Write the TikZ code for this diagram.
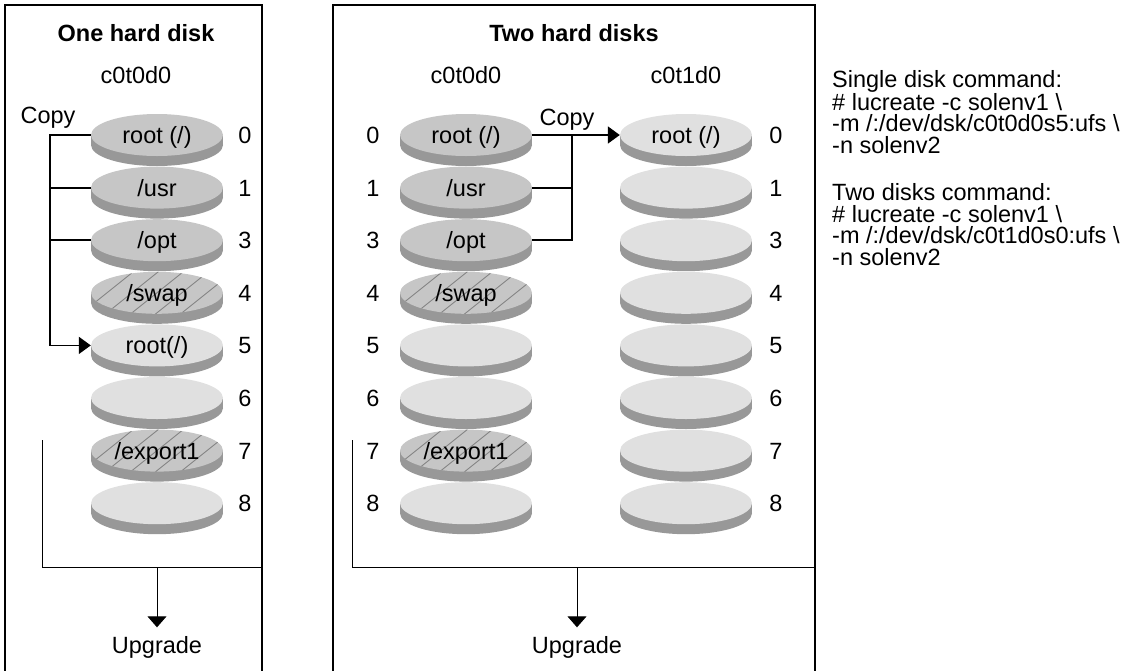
\documentclass[tikz,border=0pt]{standalone}
\usepackage{fontspec}
\setmainfont{Liberation Sans}
\usetikzlibrary{arrows.meta,shapes.geometric}
\definecolor{diskdark}{RGB}{198,198,198}
\definecolor{disklight}{RGB}{224,224,224}
\definecolor{diskside}{RGB}{152,152,152}
\definecolor{hatchgray}{RGB}{128,128,128}
\newcommand{\lblsize}{\fontsize{23.5}{21.5}\selectfont}
\tikzset{
lbl/.style={
  font=\lblsize,
  inner sep=0pt,
  text height=17pt,
  text depth=0pt
  },
ttl/.style={
  lbl,
  font=\lblsize\bfseries
  },
diskface/.style={
  lbl,
  ellipse,
  minimum width=132pt,
  minimum height=42pt,
  fill=#1
  },
hatched/.style={
  diskface=diskdark,
  path picture={
    \foreach \hx in {-100,-75,...,100}
      \draw[hatchgray,line width=0.8pt] ([xshift=\hx pt]path picture bounding box.center)
        ++(-30pt,-24pt) -- ++(60pt,48pt);
    }
  },
framebox/.style={line width=1.8pt},
copyline/.style={line width=1.8pt},
bracket/.style={line width=0.9pt}
}
% one disk slice: name, x, y, face style, text
\newcommand{\slice}[5]{
  \fill[diskside] (#2,#3+10) ellipse [x radius=66pt,y radius=21pt];
  \fill[diskside] (#2-66,#3) rectangle (#2+66,#3+10);
  \node[#4] (#1) at (#2,#3) {#5};
}

\begin{document}
\begin{tikzpicture}[x=1pt,y=-1pt,>=Triangle]
  \useasboundingbox (0,0) rectangle (1128,670);

  % frames
  \draw[framebox] (5,675) |- (262,5) -- (262,675);
  \draw[framebox] (333,675) |- (815,5) -- (815,675);
  \node[ttl] (ttlL) at (136,33) {One hard disk};
  \node[ttl] (ttlM) at (574,33) {Two hard disks};
  \node[lbl] (dnL) at (136,75) {c0t0d0};
  \node[lbl] (dnA) at (466,75) {c0t0d0};
  \node[lbl] (dnB) at (686,75) {c0t1d0};

  % one hard disk
  \slice{l0}{157}{135}{diskface=diskdark}{root (/)}
  \slice{l1}{157}{187.6}{diskface=diskdark}{/usr}
  \slice{l3}{157}{240.2}{diskface=diskdark}{/opt}
  \slice{l4}{157}{292.8}{hatched}{/swap}
  \slice{l5}{157}{345.4}{diskface=disklight}{root(/)}
  \slice{l6}{157}{398}{diskface=disklight}{}
  \slice{l7}{157}{450.6}{hatched}{/export1}
  \slice{l8}{157}{503.2}{diskface=disklight}{}
  \foreach \n/\y in {0/135,1/187.6,3/240.2,4/292.8,5/345.4,6/398,7/450.6,8/503.2}
    \node[lbl] (nl\n) at (245,\y) {\n};

  % two hard disks
  \slice{a0}{466}{135}{diskface=diskdark}{root (/)}
  \slice{a1}{466}{187.6}{diskface=diskdark}{/usr}
  \slice{a3}{466}{240.2}{diskface=diskdark}{/opt}
  \slice{a4}{466}{292.8}{hatched}{/swap}
  \slice{a5}{466}{345.4}{diskface=disklight}{}
  \slice{a6}{466}{398}{diskface=disklight}{}
  \slice{a7}{466}{450.6}{hatched}{/export1}
  \slice{a8}{466}{503.2}{diskface=disklight}{}
  \slice{b0}{686}{135}{diskface=disklight}{root (/)}
  \foreach \n/\y in {1/187.6,3/240.2,4/292.8,5/345.4,6/398,7/450.6,8/503.2}
    \slice{b\n}{686}{\y}{diskface=disklight}{};
  \foreach \n/\y in {0/135,1/187.6,3/240.2,4/292.8,5/345.4,6/398,7/450.6,8/503.2}{
    \node[lbl] (na\n) at (373,\y) {\n};
    \node[lbl] (nb\n) at (776,\y) {\n};
  }

  % copy arrows
  \node[lbl] (copyL) at (48,115) {Copy};
  \coordinate (cl0) at (50,135);
  \coordinate (cl5) at (50,345.4);
  \draw[copyline,-{Triangle[length=12pt,width=17pt]}] (l0.west) -- (cl0) -- (cl5) -- (l5.west);
  \draw[copyline] (l1.west) -- (l1.west -| cl0);
  \draw[copyline] (l3.west) -- (l3.west -| cl0);

  \node[lbl] (copyM) at (567,117) {Copy};
  \coordinate (cm0) at (572,135);
  \draw[copyline,-{Triangle[length=12pt,width=17pt]}] (a0.east) -- (b0.west);
  \draw[copyline] (a1.east) -| (cm0);
  \draw[copyline] (a3.east) -| (cm0);

  % upgrade brackets
  \coordinate (bl0) at (42,440);
  \coordinate (bl1) at (42,567);
  \coordinate (bl2) at (262,567);
  \coordinate (blm) at (157,567);
  \node[lbl] (upL) at (157,645) {Upgrade};
  \draw[bracket] (bl0) -- (bl1) -- (bl2);
  \draw[bracket,-{Triangle[length=11pt,width=19pt]},shorten >=9pt] (blm) -- (upL.north);

  \coordinate (bm0) at (352,440);
  \coordinate (bm1) at (352,567);
  \coordinate (bm2) at (815,567);
  \coordinate (bmm) at (577,567);
  \node[lbl] (upM) at (577,645) {Upgrade};
  \draw[bracket] (bm0) -- (bm1) -- (bm2);
  \draw[bracket,-{Triangle[length=11pt,width=19pt]},shorten >=9pt] (bmm) -- (upM.north);

  % commands
  \node[anchor=north west,align=left,inner sep=0pt,font=\lblsize] (cmds) at (832,70)
    {Single disk command:\\
     \# lucreate -c solenv1 \textbackslash\\
     -m /:/dev/dsk/c0t0d0s5:ufs \textbackslash\\
     -n solenv2\\[26pt]
     Two disks command:\\
     \# lucreate -c solenv1 \textbackslash\\
     -m /:/dev/dsk/c0t1d0s0:ufs \textbackslash\\
     -n solenv2};
\end{tikzpicture}
\end{document}
